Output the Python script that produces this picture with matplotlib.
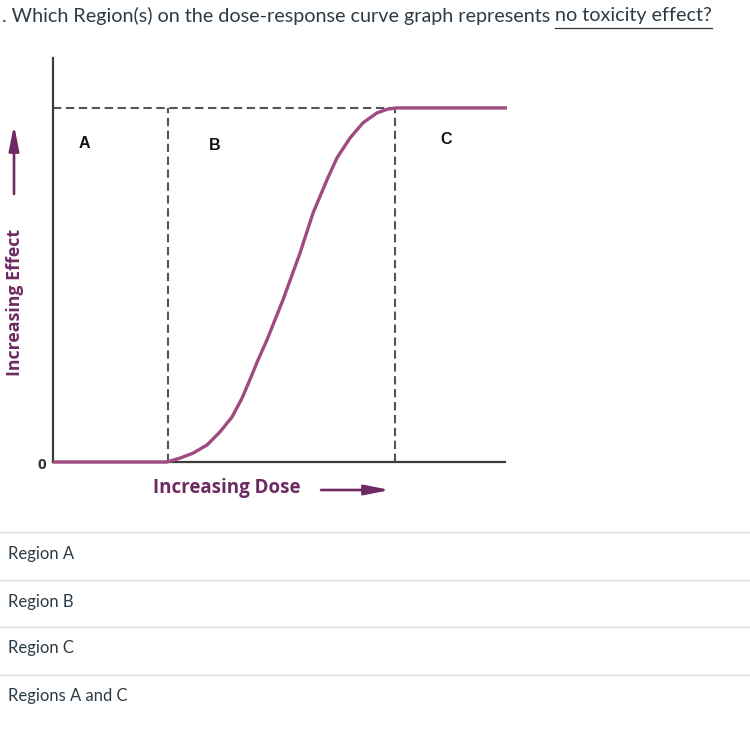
import matplotlib
matplotlib.use("Agg")
import matplotlib.pyplot as plt
from matplotlib.lines import Line2D
from matplotlib.patches import FancyArrowPatch

# ---- data ----
dose = [0, 114, 127, 140, 154, 167, 179, 189, 197, 205, 214, 230, 247,
        260, 274, 284, 297, 310, 324, 335, 344, 454]
effect = [0, 0, 1.1, 2.5, 4.8, 8.5, 12.7, 18.0, 23.3, 28.8, 34.5, 45.8, 59.0,
          70.3, 79.7, 85.9, 91.5, 95.8, 98.6, 99.7, 100, 100]
region_bounds = [0, 115, 342]          # A | B | C boundaries (dose units)
region_labels = ["A", "B", "C"]
region_label_x = [31, 162, 393]
region_label_y = [90, 89.5, 91]
options = ["Region A", "Region B", "Region C", "Regions A and C"]
title_plain = ". Which Region(s) on the dose-response curve graph represents "
title_underlined = "no toxicity effect?"

W, H = 750, 744
fig = plt.figure(figsize=(W / 100, H / 100), dpi=100)
fig.patch.set_facecolor("white")

def fx(px):
    return px / W

def fy(py):
    return 1 - py / H

PURPLE = "#a04a80"
DPURPLE = "#6e2a62"
AXC = "#3c3c3c"
DASHC = "#555555"
TEXTC = "#2d3b45"

# chart axes: x px 53..507, y px 462..58
ax = fig.add_axes([fx(53), fy(462), (507 - 53) / W, (462 - 58) / H])
ax.set_xlim(0, 454)
ax.set_ylim(0, 114.1)
for s in ["top", "right"]:
    ax.spines[s].set_visible(False)
ax.spines["left"].set_color(AXC)
ax.spines["bottom"].set_color(AXC)
ax.spines["left"].set_linewidth(1.6)
ax.spines["bottom"].set_linewidth(1.6)
ax.spines["bottom"].set_bounds(0, 452)
ax.set_xticks([])
ax.set_yticks([])
ax.patch.set_alpha(0)

# dashed guide lines
dash = dict(color=DASHC, lw=1.5, dashes=(4, 2.2), zorder=2)
ax.plot([0, region_bounds[2]], [100, 100], **dash)
ax.plot([region_bounds[1], region_bounds[1]], [0, 100], **dash)
ax.plot([region_bounds[2], region_bounds[2]], [0, 100], **dash)

# curve
ax.plot(dose, effect, color=PURPLE, lw=2.4, zorder=5, clip_on=False,
        solid_capstyle="butt", solid_joinstyle="round")

for lab, x, y in zip(region_labels, region_label_x, region_label_y):
    ax.text(x, y, lab, ha="center", va="center", fontsize=11.5,
            fontweight="bold", family="Liberation Sans", color="#111111")

# zero label
fig.text(fx(42), fy(465), "0", ha="center", va="center", fontsize=11,
         fontweight="bold", family="Open Sans", color="#333333")

# axis labels
fig.text(fx(15), fy(302), "Increasing Effect", rotation=90, ha="center",
         va="center", fontsize=12.75, fontweight="bold", family="Open Sans",
         color=DPURPLE)
fig.text(fx(227), fy(488), "Increasing Dose", ha="center", va="center",
         fontsize=13.5, fontweight="bold", family="Open Sans", color=DPURPLE)

# arrows
astyle = "-|>,head_length=15,head_width=3.0"
fig.add_artist(FancyArrowPatch((fx(14), fy(194)), (fx(14), fy(125)),
                               transform=fig.transFigure, arrowstyle=astyle,
                               color=DPURPLE, lw=1.9, shrinkA=0, shrinkB=0))
fig.add_artist(FancyArrowPatch((fx(321), fy(490)), (fx(390), fy(490)),
                               transform=fig.transFigure, arrowstyle=astyle,
                               color=DPURPLE, lw=1.9, shrinkA=0, shrinkB=0))

# title
t1 = fig.text(fx(2), fy(16), title_plain, ha="left", va="center",
              fontsize=14.2, family="Lato", color=TEXTC)
renderer = fig.canvas.get_renderer()
bb = t1.get_window_extent(renderer)
x2 = bb.x1 / W
t2 = fig.text(x2, fy(16), title_underlined, ha="left", va="center",
              fontsize=14.2, family="Lato", color=TEXTC)
bb2 = t2.get_window_extent(renderer)
fig.add_artist(Line2D([bb2.x0 / W, bb2.x1 / W], [fy(28), fy(28)],
                      transform=fig.transFigure, color=TEXTC, lw=0.9))

# option separators and labels
sep_y = [532, 580, 627, 675]
for opt, sy in zip(options, sep_y):
    fig.add_artist(Line2D([0, 1], [fy(sy), fy(sy)], transform=fig.transFigure,
                          color="#dddddd", lw=1.0))
    fig.text(fx(8), fy(sy + 21.5), opt, ha="left", va="center",
             fontsize=12, family="Lato", color=TEXTC)

fig.savefig("out.png", dpi=100, facecolor="white")
